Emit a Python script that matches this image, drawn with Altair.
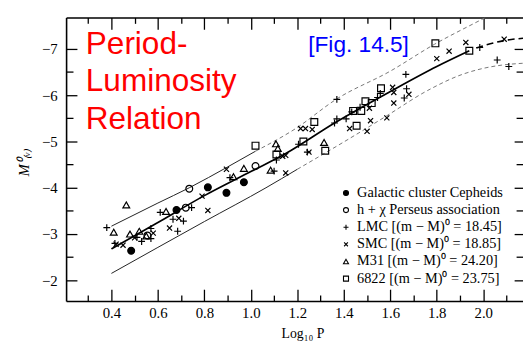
import altair as alt
import pandas as pd

SERIF = "Liberation Serif"
SANS = "Liberation Sans"

# ---------------- fitted ridge line and envelopes ----------------
ridge_logp = [0.40, 0.60, 0.80, 1.00, 1.15, 1.36, 1.60, 1.80, 1.94]
ridge_m = [-2.68, -3.25, -3.83, -4.35, -4.74, -5.40, -6.08, -6.62, -6.96]
ridge_tail_logp = [1.97, 2.03, 2.09, 2.171]
ridge_tail_m = [-7.02, -7.11, -7.18, -7.23]

upper_logp = [0.40, 0.60, 0.735, 0.90, 1.02]
upper_m = [-3.17, -3.67, -4.00, -4.45, -4.79]
upper_tail_logp = [1.02, 1.19, 1.37, 1.60, 1.79, 1.96, 2.05]
upper_tail_m = [-4.79, -5.27, -5.92, -6.52, -7.10, -7.55, -7.78]

lower_logp = [0.40, 0.80, 1.065, 1.20]
lower_m = [-2.15, -3.27, -4.00, -4.40]
lower_tail_logp = [1.20, 1.40, 1.58, 1.76, 1.91, 2.00, 2.08, 2.171]
lower_tail_m = [-4.40, -4.99, -5.54, -6.10, -6.45, -6.58, -6.65, -6.69]

# ---------------- Cepheid data points ----------------
gal_logp = [0.485, 0.68, 0.815, 0.895, 0.97]
gal_m = [-2.64, -3.52, -4.01, -3.89, -4.12]

per_logp = [0.555, 0.72, 0.735, 1.02]
per_m = [-2.97, -3.57, -3.98, -4.47]

lmc_logp = [0.38, 0.415, 0.51, 0.53, 0.57, 0.57, 0.61, 0.665, 0.685, 0.71, 0.745,
            0.91, 1.10, 1.11, 1.205, 1.243, 1.37, 1.37, 1.36, 1.41, 1.434, 1.47,
            1.545, 1.557, 1.66, 1.667, 1.67, 1.985, 2.06, 2.11]
lmc_m = [-3.14, -2.80, -2.93, -2.84, -3.12, -2.90, -3.47, -3.32, -3.06, -3.28, -3.57,
         -4.22, -4.36, -4.60, -4.94, -4.77, -5.91, -5.49, -5.40, -5.49, -5.64, -5.74,
         -5.95, -6.04, -5.94, -6.45, -6.14, -7.03, -6.76, -6.62]

smc_logp = [0.42, 0.45, 0.50, 0.58, 0.65, 0.69, 0.79, 0.815, 0.895, 1.137, 1.15, 1.15,
            1.214, 1.235, 1.264, 1.25, 1.425, 1.50, 1.515, 1.51, 1.585, 1.61, 1.615,
            1.615, 1.68, 1.80, 1.853, 1.925, 2.09]
smc_m = [-2.78, -2.76, -2.92, -3.02, -3.13, -3.34, -3.82, -3.51, -4.40, -4.68, -4.32, -4.70,
         -5.28, -5.28, -5.26, -4.77, -5.28, -5.22, -5.45, -5.72, -5.51, -6.17, -6.06,
         -5.83, -6.02, -6.79, -6.95, -7.14, -7.21]

m31_logp = [0.41, 0.464, 0.48, 0.52, 0.55, 0.635, 0.925, 0.97, 1.085, 1.108, 1.116, 1.315]
m31_m = [-3.04, -3.63, -3.00, -3.06, -2.96, -3.49, -4.24, -4.42, -4.38, -4.95, -4.85, -4.98]

n6822_logp = [1.02, 1.11, 1.226, 1.273, 1.32, 1.44, 1.455, 1.475, 1.493, 1.52, 1.56, 1.794, 1.94]
n6822_m = [-4.91, -4.72, -5.00, -5.42, -4.80, -5.66, -5.34, -5.66, -5.87, -5.83, -6.15, -7.12, -6.96]

group_labels = [
    "Galactic cluster Cepheids",
    "h + χ Perseus association",
    "LMC [(m − M)⁰ = 18.45]",
    "SMC [(m − M)⁰ = 18.85]",
    "M31  [(m − M)⁰ = 24.20]",
    "6822 [(m − M)⁰ = 23.75]",
]
group_shapes = [
    "circle",
    "circle",
    "M-1,0L1,0M0,-1L0,1",
    "M-0.75,-0.75L0.75,0.75M-0.75,0.75L0.75,-0.75",
    "triangle-up",
    "square",
]
group_fills = ["black", "transparent", "transparent", "transparent", "transparent", "transparent"]
group_strokes = ["black", "black", "black", "black", "black", "black"]

# axis tick values and labels
x_major = [0.4, 0.6, 0.8, 1.0, 1.2, 1.4, 1.6, 1.8, 2.0]
x_minor = [0.3, 0.5, 0.7, 0.9, 1.1, 1.3, 1.5, 1.7, 1.9, 2.1]
y_major = [-2, -3, -4, -5, -6, -7]
y_minor = [-2.5, -3.5, -4.5, -5.5, -6.5]

# annotation texts
note_text = ["Period-", "Luminosity", "Relation", "[Fig. 14.5]"]
note_logp = [0.29, 0.29, 0.29, 1.247]
note_m = [-6.89, -6.08, -5.27, -6.93]
note_color = ["#ff0000", "#ff0000", "#ff0000", "#0000ff"]
note_size = [32, 32, 32, 23]

# ---------------- build tables ----------------
def line_df(xs, ys):
    return pd.DataFrame({"logp": xs, "m": ys})

groups = [
    (gal_logp, gal_m), (per_logp, per_m), (lmc_logp, lmc_m),
    (smc_logp, smc_m), (m31_logp, m31_m), (n6822_logp, n6822_m),
]
pts = pd.concat(
    [pd.DataFrame({"logp": gx, "m": gy, "group": lab}) for (gx, gy), lab in zip(groups, group_labels)],
    ignore_index=True,
)
notes = pd.DataFrame({"logp": note_logp, "m": note_m, "text": note_text,
                      "col": note_color, "fs": note_size})

sx = alt.Scale(domain=[0.205, 2.171], nice=False, zero=False)
sy = alt.Scale(domain=[-1.553, -7.68], nice=False, zero=False)

BLK = "black"


def tick_axis(orient, values, length):
    return alt.Axis(orient=orient, values=values, offset=-length, tickSize=length,
                    ticks=True, labels=False, domain=False, grid=False,
                    tickColor=BLK, tickWidth=1.3)


x_main = alt.Axis(orient="bottom", values=x_major, format=".1f", ticks=False, tickSize=0,
                  domain=True, domainColor=BLK, domainWidth=1.6, grid=False,
                  labelFont=SERIF, labelFontSize=15, labelColor=BLK, labelPadding=5,
                  titleFont=SERIF, titleFontSize=14, titleFontWeight="normal", titleColor=BLK,
                  titleX=240, titleY=26, titleBaseline="top")
y_main = alt.Axis(orient="left", values=y_major, format="d", ticks=False, tickSize=0,
                  domain=True, domainColor=BLK, domainWidth=1.6, grid=False,
                  labelFont=SERIF, labelFontSize=15, labelColor=BLK, labelPadding=9,
                  titleFont=SERIF, titleFontSize=15, titleFontStyle="italic",
                  titleFontWeight="normal", titleColor=BLK, titleAngle=270,
                  titleX=-43, titleY=147, titleAlign="center", titleBaseline="middle")
x_topdomain = alt.Axis(orient="top", ticks=False, labels=False, domain=True,
                       domainColor=BLK, domainWidth=1.6, grid=False, tickCount=1)

ridge = alt.Chart(line_df(ridge_logp, ridge_m)).mark_line(
    color=BLK, strokeWidth=1.7, interpolate="monotone", clip=True
).encode(
    x=alt.X("logp:Q", scale=sx, axis=x_main, title="Log₁₀ P"),
    y=alt.Y("m:Q", scale=sy, axis=y_main, title="M⁰₍ᵥ₎"),
)

ridge_tail = alt.Chart(line_df(ridge_tail_logp, ridge_tail_m)).mark_line(
    color=BLK, strokeWidth=1.6, strokeDash=[7, 4], interpolate="monotone", clip=True
).encode(
    x=alt.X("logp:Q", scale=sx, axis=tick_axis("bottom", x_major, 12), title=None),
    y=alt.Y("m:Q", scale=sy, axis=tick_axis("left", y_major, 11), title=None),
)

upper = alt.Chart(line_df(upper_logp, upper_m)).mark_line(
    color="#222222", strokeWidth=1.0, interpolate="monotone", clip=True
).encode(
    x=alt.X("logp:Q", scale=sx, axis=tick_axis("bottom", x_minor, 6), title=None),
    y=alt.Y("m:Q", scale=sy, axis=tick_axis("left", y_minor, 7), title=None),
)

upper_tail = alt.Chart(line_df(upper_tail_logp, upper_tail_m)).mark_line(
    color="#777777", strokeWidth=1.0, strokeDash=[4, 3], interpolate="monotone", clip=True
).encode(
    x=alt.X("logp:Q", scale=sx, axis=tick_axis("top", x_major, 12), title=None),
    y=alt.Y("m:Q", scale=sy, axis=tick_axis("right", y_major, 9), title=None),
)

lower = alt.Chart(line_df(lower_logp, lower_m)).mark_line(
    color="#222222", strokeWidth=1.0, interpolate="monotone", clip=True
).encode(
    x=alt.X("logp:Q", scale=sx, axis=tick_axis("top", x_minor, 6), title=None),
    y=alt.Y("m:Q", scale=sy, axis=tick_axis("right", y_minor, 7), title=None),
)

lower_tail = alt.Chart(line_df(lower_tail_logp, lower_tail_m)).mark_line(
    color="#777777", strokeWidth=1.0, strokeDash=[4, 3], interpolate="monotone", clip=True
).encode(
    x=alt.X("logp:Q", scale=sx, axis=x_topdomain, title=None),
    y=alt.Y("m:Q", scale=sy, axis=None),
)

leg = alt.Legend(title=None, orient="none", legendX=277, legendY=171,
                 symbolStrokeColor=BLK, symbolStrokeWidth=1.1)
points = alt.Chart(pts).mark_point(
    filled=False, size=48, strokeWidth=1.2, opacity=1, clip=True
).encode(
    x=alt.X("logp:Q", scale=sx, axis=None),
    y=alt.Y("m:Q", scale=sy, axis=None),
    shape=alt.Shape("group:N", scale=alt.Scale(domain=group_labels, range=group_shapes), legend=leg),
    fill=alt.Fill("group:N", scale=alt.Scale(domain=group_labels, range=group_fills), legend=leg),
    stroke=alt.Stroke("group:N", scale=alt.Scale(domain=group_labels, range=group_strokes), legend=leg),
)

texts = alt.Chart(notes).mark_text(
    align="left", baseline="alphabetic", font=SANS
).encode(
    x=alt.X("logp:Q", scale=sx, axis=None),
    y=alt.Y("m:Q", scale=sy, axis=None),
    text="text:N",
    color=alt.Color("col:N", scale=None),
    size=alt.Size("fs:Q", scale=None),
)

chart = alt.layer(
    ridge, ridge_tail, upper, upper_tail, lower, lower_tail, points, texts
).resolve_axis(
    x="independent", y="independent"
).properties(
    width=464, height=288,
    autosize=alt.AutoSizeParams(type="none"),
    padding={"left": 59, "top": 7, "right": 0, "bottom": 38},
    background="white",
).configure_view(
    stroke=None
).configure_legend(
    padding=0, labelFont=SERIF, labelFontSize=14.5, labelColor=BLK, labelLimit=0,
    symbolSize=26, rowPadding=2.4, labelOffset=4,
)

chart.save("out.html", embed_options={"renderer": "svg", "actions": False})
